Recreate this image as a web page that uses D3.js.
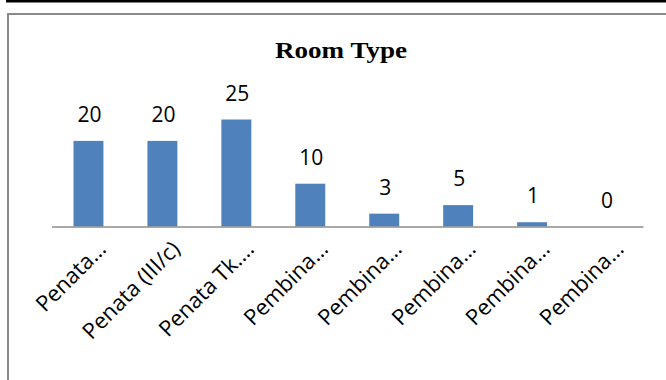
<!DOCTYPE html>
<html>
<head>
<meta charset="utf-8">
<script src="https://cdn.jsdelivr.net/npm/d3@7"></script>
<style>
  html, body { margin: 0; padding: 0; background: #fff; }
  svg { display: block; }
</style>
</head>
<body>
<svg id="chart" width="666" height="380"></svg>
<script>
// ---- data ----
const categories = ["Penata…", "Penata (III/c)", "Penata Tk.…", "Pembina…", "Pembina…", "Pembina…", "Pembina…", "Pembina…"];
const categoryKeys = ["c1", "c2", "c3", "c4", "c5", "c6", "c7", "c8"];
const values = [20, 20, 25, 10, 3, 5, 1, 0];
const valueLabels = ["20", "20", "25", "10", "3", "5", "1", "0"];
const chartTitle = "Room Type";

const W = 666, H = 380;
const svg = d3.select("#chart");

// top rule of page
svg.append("rect").attr("x", 6).attr("y", 0).attr("width", W - 6).attr("height", 2.5).attr("fill", "#000");

// chart frame (extends beyond the visible area)
svg.append("rect")
  .attr("x", 8).attr("y", 14)
  .attr("width", W + 20).attr("height", H + 20)
  .attr("fill", "none").attr("stroke", "#8a8a8a").attr("stroke-width", 2);

// title
svg.append("text")
  .attr("x", 341).attr("y", 58)
  .attr("text-anchor", "middle")
  .attr("font-family", "'Liberation Serif', 'Times New Roman', serif")
  .attr("font-weight", "bold")
  .attr("font-size", 24)
  .attr("textLength", 132)
  .attr("lengthAdjust", "spacingAndGlyphs")
  .attr("fill", "#000")
  .text(chartTitle);

const x = d3.scaleBand()
  .domain(categoryKeys)
  .range([51.5, 643])
  .paddingInner(0.595)
  .paddingOuter(0.2975);

const y = d3.scaleLinear()
  .domain([0, 25])
  .range([226.5, 119.5]);

const data = categoryKeys.map((k, i) => ({ key: k, name: categories[i], value: values[i], label: valueLabels[i] }));

// bars
svg.append("g").selectAll("rect")
  .data(data)
  .join("rect")
  .attr("x", d => x(d.key))
  .attr("width", x.bandwidth())
  .attr("y", d => y(d.value))
  .attr("height", d => y(0) - y(d.value))
  .attr("fill", "#4F81BD");

// axis line
const axis = d3.axisBottom(x).tickSize(0).tickFormat("");
const gAxis = svg.append("g").attr("transform", `translate(0,${y(0)})`).call(axis);
gAxis.select(".domain").attr("stroke", "#8c8c8c").attr("stroke-width", 1.5);

// data labels
svg.append("g").selectAll("text")
  .data(data)
  .join("text")
  .attr("x", d => x(d.key) + x.bandwidth() / 2 + 1)
  .attr("y", d => y(d.value) - 19)
  .attr("text-anchor", "middle")
  .attr("font-family", "'Open Sans', 'Noto Sans', sans-serif")
  .attr("font-size", 21)
  .attr("fill", "#000")
  .text(d => d.label);

// category labels (rotated)
svg.append("g").selectAll("text")
  .data(data)
  .join("text")
  .attr("transform", d => `translate(${x(d.key) + x.bandwidth() / 2 + 19},${y(0) + 24}) rotate(-45)`)
  .attr("text-anchor", "end")
  .attr("font-family", "'Open Sans', 'Noto Sans', sans-serif")
  .attr("font-size", 22)
  .attr("fill", "#000")
  .text(d => d.name);
</script>
</body>
</html>
